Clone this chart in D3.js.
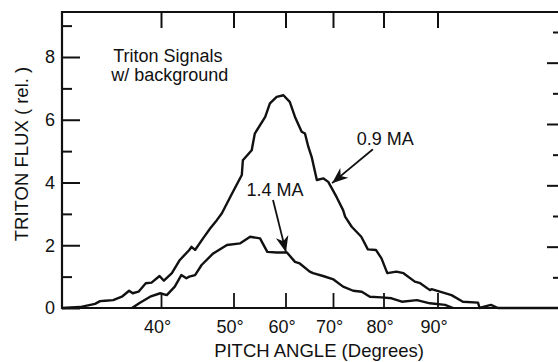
<!DOCTYPE html>
<html>
<head>
<meta charset="utf-8">
<script src="https://cdn.jsdelivr.net/npm/d3@7"></script>
<style>
  body { margin: 0; background: #fff; }
  svg text { font-family: "Liberation Sans", Arial, Helvetica, sans-serif; fill: #111; }
</style>
</head>
<body>
<svg id="chart"></svg>
<script>
// pitch angle (deg) / relative flux
const xTicks = [40, 50, 60, 70, 80, 90];
const yTicksMajor = [0, 2, 4, 6, 8];
const yTicksMinor = [1, 3, 5, 7, 9];
const rightTicks = [1, 2, 3, 4, 5, 6, 7, 8, 9];

const flux09 = [
  [26.3, 0], [28.8, 0.03], [30.9, 0.13], [31.6, 0.22], [32.3, 0.23], [33.4, 0.25],
  [34.6, 0.36], [35.6, 0.55], [36.1, 0.47], [36.9, 0.52], [37.9, 0.79], [38.7, 0.81],
  [39.8, 1.02], [40.4, 0.87], [41.5, 1.11], [42.6, 1.53], [43.9, 1.85], [44.2, 1.95],
  [44.7, 1.85], [45.8, 2.22], [46.8, 2.54], [47.7, 2.80], [48.4, 3.02], [49.8, 3.65],
  [51.6, 4.24], [51.8, 4.71], [53.5, 5.03], [54.1, 5.56], [56.1, 6.09], [57.0, 6.52],
  [58.3, 6.73], [59.6, 6.78], [60.9, 6.57], [62.0, 6.09], [63.4, 5.62], [64.1, 5.56],
  [64.8, 5.14], [65.5, 4.82], [66.6, 4.08], [68.0, 4.13], [69.0, 4.02], [70.7, 3.54],
  [72.0, 3.12], [72.4, 2.91], [73.7, 2.59], [75.6, 2.27], [76.9, 1.87], [78.5, 1.85],
  [79.6, 1.58], [80.7, 1.11], [82.4, 1.16], [83.7, 1.11], [85.8, 0.84], [86.8, 0.79],
  [88.6, 0.57], [88.9, 0.60], [92.6, 0.41], [94.7, 0.20], [97.5, 0.17], [97.8, 0],
  [99.0, 0.06], [99.9, 0.10], [101.2, 0], [112.5, 0]
];
const flux14 = [
  [36.0, 0], [37.1, 0.17], [38.5, 0.36], [39.9, 0.47], [40.8, 0.41], [41.9, 0.68],
  [42.8, 1.05], [43.5, 0.95], [43.9, 1.00], [44.7, 1.05], [45.6, 1.37], [47.2, 1.74],
  [49.1, 2.01], [51.3, 2.06], [53.2, 2.27], [55.1, 2.22], [56.5, 1.79], [58.3, 1.77],
  [60.3, 1.77], [62.0, 1.47], [63.0, 1.42], [65.1, 1.16], [65.8, 1.11], [67.9, 1.02],
  [70.1, 0.91], [72.0, 0.68], [74.0, 0.55], [75.7, 0.52], [77.3, 0.36], [79.6, 0.34],
  [81.5, 0.31], [83.4, 0.20], [86.2, 0.25], [88.6, 0.15], [91.4, 0.10], [92.9, 0]
];
// annotations: label anchor, arrow tail, arrow tip (data units)
const labels = [
  { text: '0.9 MA', at: [74.7, 5.19], tail: [77.9, 5.06], tip: [69.8, 3.98] },
  { text: '1.4 MA', at: [52.5, 3.57], tail: [57.6, 3.44], tip: [60.1, 1.78] }
];
const noteLines = ['Triton Signals', 'w/ background'];
const noteAt = [33.4, 7.84];

const W = 558, H = 362;
const svgDim = { l: 62, r: 558, t: 12, b: 308 };
const $svg = d3.select('#chart').attr('width', W).attr('height', H);

// the printed tick spacing is uneven, so use a polylinear scale
const x = d3.scaleLinear().domain(xTicks).range([161, 233.5, 285.5, 333, 383.5, 437.5]);
const y = d3.scaleLinear().domain([0, 8]).range([svgDim.b, 57]);
const yRight = d3.scaleLinear().domain([0, 9]).range([svgDim.b, 32]);

const axisStyle = (g) => {
  g.select('.domain').remove();
  g.selectAll('line').attr('stroke', '#111').attr('stroke-width', 2);
  g.selectAll('text').attr('font-size', 18).attr('fill', '#111')
    .attr('font-family', '"Liberation Sans", Arial, sans-serif');
};

// left axis
$svg.append('g').attr('transform', 'translate(' + svgDim.l + ',0)')
  .call(d3.axisLeft(y).tickValues(yTicksMajor).tickSize(-18).tickPadding(7))
  .call(axisStyle);
$svg.append('g').attr('transform', 'translate(' + svgDim.l + ',0)')
  .call(d3.axisLeft(y).tickValues(yTicksMinor).tickSize(-10).tickFormat(''))
  .call(axisStyle);

// right axis ticks (frame edge sits at the picture border)
$svg.append('g').attr('transform', 'translate(' + svgDim.r + ',0)')
  .call(d3.axisRight(yRight).tickValues(rightTicks).tickFormat('')
    .tickSize(-5))
  .call(axisStyle)
  .selectAll('.tick line').attr('x2', (d) => d % 2 == 0 ? -11 : -5);

// bottom axis
const $bottom = $svg.append('g').attr('transform', 'translate(0,' + svgDim.b + ')')
  .call(d3.axisBottom(x).tickValues(xTicks).tickSize(-15).tickPadding(12)
    .tickFormat((d) => d + '°'))
  .call(axisStyle);
$bottom.selectAll('.tick line').attr('stroke-width', 1.8);
$bottom.selectAll('text').attr('dx', -4);

// top axis
$svg.append('g').attr('transform', 'translate(0,' + svgDim.t + ')')
  .call(d3.axisTop(x).tickValues(xTicks).tickSize(-16).tickFormat(''))
  .call(axisStyle);

// frame
$svg.append('path')
  .attr('d', 'M' + svgDim.r + ',' + svgDim.t + 'H' + svgDim.l + 'V' + svgDim.b + 'H' + svgDim.r)
  .attr('fill', 'none').attr('stroke', '#111').attr('stroke-width', 2.2);

// curves
const line = d3.line().x((d) => x(d[0])).y((d) => y(d[1]));
$svg.selectAll('.curve')
  .data([flux09, flux14])
  .enter()
  .append('path')
  .attr('class', 'curve')
  .attr('d', line)
  .attr('fill', 'none')
  .attr('stroke', '#111')
  .attr('stroke-width', 2.4)
  .attr('stroke-linejoin', 'round');

// arrows + labels
$svg.append('defs').append('marker')
  .attr('id', 'head')
  .attr('viewBox', '0 0 10 10')
  .attr('refX', 10).attr('refY', 5)
  .attr('markerWidth', 16).attr('markerHeight', 16)
  .attr('markerUnits', 'userSpaceOnUse')
  .attr('orient', 'auto')
  .append('path')
  .attr('d', 'M0,1 L10,5 L0,9 L3,5 Z')
  .attr('fill', '#111');
labels.forEach((lab) => {
  $svg.append('line')
    .attr('x1', x(lab.tail[0])).attr('y1', y(lab.tail[1]))
    .attr('x2', x(lab.tip[0])).attr('y2', y(lab.tip[1]))
    .attr('stroke', '#111').attr('stroke-width', 1.8)
    .attr('marker-end', 'url(#head)');
  $svg.append('text')
    .attr('x', x(lab.at[0])).attr('y', y(lab.at[1]))
    .attr('font-size', 18)
    .text(lab.text);
});

$svg.append('text')
  .attr('font-size', 18)
  .selectAll('tspan')
  .data(noteLines)
  .enter()
  .append('tspan')
  .attr('x', (d, i) => x(noteAt[0]) - i * 2)
  .attr('y', (d, i) => y(noteAt[1]) + i * 18.5)
  .text((d) => d);

// axis titles
$svg.append('text')
  .text('TRITON FLUX ( rel. )')
  .attr('text-anchor', 'middle')
  .attr('font-size', 18.5)
  .attr('transform', 'translate(28, 154) rotate(-90)');
$svg.append('text')
  .text('PITCH ANGLE (Degrees)')
  .attr('text-anchor', 'middle')
  .attr('font-size', 18.5)
  .attr('transform', 'translate(319, 357)');
</script>
</body>
</html>
